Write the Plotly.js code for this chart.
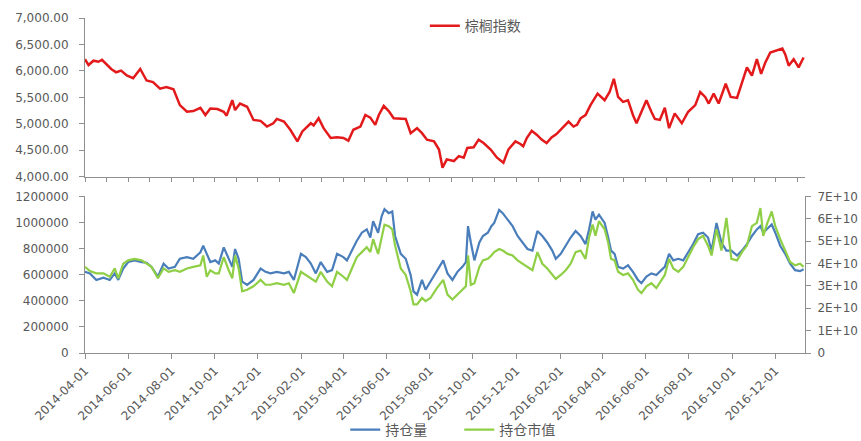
<!DOCTYPE html>
<html>
<head>
<meta charset="utf-8">
<script src="https://cdn.plot.ly/plotly-3.0.1.min.js"></script>
<style>html,body{margin:0;padding:0;background:#fff;}#chart{width:861px;height:441px;}</style>
</head>
<body>
<div id="chart"></div>
<script>
// ---- Top chart: palm oil index ----
const indexDates = ["2014-04-01","2014-04-06","2014-04-13","2014-04-20","2014-04-25","2014-05-01","2014-05-08","2014-05-15","2014-05-22","2014-05-30","2014-06-08","2014-06-18","2014-06-27","2014-07-06","2014-07-16","2014-07-25","2014-08-04","2014-08-13","2014-08-23","2014-09-01","2014-09-11","2014-09-18","2014-09-25","2014-10-05","2014-10-14","2014-10-18","2014-10-26","2014-10-30","2014-11-06","2014-11-16","2014-11-25","2014-12-05","2014-12-14","2014-12-23","2014-12-28","2015-01-07","2015-01-16","2015-01-26","2015-02-02","2015-02-14","2015-02-18","2015-02-25","2015-03-04","2015-03-14","2015-03-23","2015-04-01","2015-04-08","2015-04-15","2015-04-25","2015-05-02","2015-05-09","2015-05-16","2015-05-21","2015-05-28","2015-06-04","2015-06-11","2015-06-21","2015-06-28","2015-07-05","2015-07-14","2015-07-21","2015-07-28","2015-08-07","2015-08-14","2015-08-19","2015-08-25","2015-09-04","2015-09-11","2015-09-18","2015-09-23","2015-10-02","2015-10-09","2015-10-16","2015-10-26","2015-11-04","2015-11-13","2015-11-20","2015-11-30","2015-12-07","2015-12-11","2015-12-16","2015-12-23","2015-12-30","2016-01-06","2016-01-13","2016-01-20","2016-01-27","2016-02-06","2016-02-13","2016-02-20","2016-02-25","2016-03-01","2016-03-08","2016-03-15","2016-03-25","2016-04-04","2016-04-11","2016-04-17","2016-04-23","2016-04-30","2016-05-07","2016-05-14","2016-05-19","2016-05-26","2016-06-02","2016-06-09","2016-06-14","2016-06-21","2016-06-28","2016-07-04","2016-07-12","2016-07-22","2016-07-31","2016-08-10","2016-08-17","2016-08-24","2016-08-29","2016-09-05","2016-09-12","2016-09-22","2016-09-29","2016-10-08","2016-10-15","2016-10-22","2016-10-29","2016-11-05","2016-11-11","2016-11-17","2016-11-24","2016-12-01","2016-12-11","2016-12-15","2016-12-20","2016-12-27","2017-01-03","2017-01-10"];
const palmIndex = [6220,6110,6192,6173,6210,6129,6036,5974,6005,5912,5862,6036,5818,5787,5662,5694,5651,5352,5227,5240,5302,5165,5289,5278,5227,5153,5445,5259,5382,5321,5072,5054,4947,5009,5091,5041,4886,4667,4854,5009,4966,5103,4916,4730,4742,4730,4680,4886,4947,5165,5115,4979,5165,5339,5240,5103,5091,5091,4822,4916,4822,4699,4667,4512,4169,4326,4294,4388,4357,4543,4556,4699,4636,4512,4357,4263,4512,4667,4617,4574,4730,4867,4792,4699,4636,4742,4804,4947,5041,4947,4979,5103,5165,5352,5569,5445,5600,5849,5507,5414,5445,5165,5009,5227,5445,5227,5091,5072,5302,4916,5196,5009,5227,5352,5600,5507,5382,5569,5382,5756,5507,5489,5787,6067,5912,6222,5943,6160,6347,6378,6422,6316,6098,6222,6067,6254];

// ---- Bottom chart: open interest and its market value ----
const oiDates = ["2014-04-01","2014-04-08","2014-04-17","2014-04-27","2014-05-06","2014-05-13","2014-05-18","2014-05-25","2014-06-01","2014-06-10","2014-06-20","2014-06-27","2014-07-04","2014-07-13","2014-07-21","2014-07-28","2014-08-06","2014-08-13","2014-08-23","2014-09-01","2014-09-11","2014-09-15","2014-09-20","2014-09-25","2014-10-02","2014-10-07","2014-10-14","2014-10-21","2014-10-26","2014-10-30","2014-11-04","2014-11-09","2014-11-16","2014-11-25","2014-12-05","2014-12-12","2014-12-19","2014-12-28","2015-01-07","2015-01-14","2015-01-21","2015-01-31","2015-02-07","2015-02-14","2015-02-21","2015-02-28","2015-03-09","2015-03-16","2015-03-23","2015-04-01","2015-04-06","2015-04-13","2015-04-20","2015-04-27","2015-05-04","2015-05-09","2015-05-13","2015-05-20","2015-05-25","2015-05-29","2015-06-04","2015-06-09","2015-06-13","2015-06-21","2015-06-28","2015-07-05","2015-07-09","2015-07-14","2015-07-21","2015-07-26","2015-08-02","2015-08-11","2015-08-20","2015-08-26","2015-09-02","2015-09-09","2015-09-16","2015-09-21","2015-09-24","2015-09-28","2015-10-03","2015-10-10","2015-10-15","2015-10-22","2015-10-27","2015-10-31","2015-11-07","2015-11-12","2015-11-19","2015-11-26","2015-12-03","2015-12-10","2015-12-17","2015-12-24","2015-12-31","2016-01-07","2016-01-14","2016-01-21","2016-01-26","2016-02-02","2016-02-09","2016-02-16","2016-02-23","2016-03-01","2016-03-08","2016-03-13","2016-03-18","2016-03-22","2016-03-27","2016-04-04","2016-04-09","2016-04-13","2016-04-18","2016-04-23","2016-04-30","2016-05-07","2016-05-14","2016-05-21","2016-05-26","2016-06-02","2016-06-09","2016-06-16","2016-06-23","2016-06-28","2016-07-04","2016-07-10","2016-07-17","2016-07-24","2016-07-31","2016-08-07","2016-08-14","2016-08-21","2016-08-28","2016-09-02","2016-09-09","2016-09-16","2016-09-23","2016-09-30","2016-10-08","2016-10-15","2016-10-22","2016-10-29","2016-11-05","2016-11-10","2016-11-14","2016-11-19","2016-11-26","2016-12-01","2016-12-08","2016-12-15","2016-12-22","2016-12-29","2017-01-05","2017-01-10"];
const openInterest = [622000,610000,560000,577000,560000,610000,560000,647000,697000,710000,697000,692000,660000,585000,685000,647000,660000,722000,735000,722000,772000,822000,760000,697000,710000,685000,810000,722000,660000,797000,722000,547000,522000,560000,647000,622000,610000,622000,610000,622000,560000,760000,735000,685000,610000,697000,622000,635000,760000,735000,710000,785000,860000,922000,947000,885000,1010000,922000,1047000,1102000,1072000,1085000,897000,760000,722000,597000,472000,447000,560000,485000,547000,635000,710000,610000,560000,622000,660000,697000,972000,847000,710000,847000,897000,922000,972000,997000,1097000,1072000,1022000,972000,897000,847000,797000,785000,935000,897000,847000,785000,722000,760000,822000,885000,935000,897000,835000,947000,1085000,1022000,1060000,997000,885000,785000,760000,660000,647000,672000,622000,560000,535000,585000,610000,597000,635000,660000,760000,710000,722000,710000,772000,835000,910000,922000,885000,785000,997000,847000,785000,785000,747000,785000,835000,897000,947000,972000,922000,947000,985000,922000,822000,760000,685000,635000,627000,642000];
const oiMarketValue = [3.85e10,3.66e10,3.56e10,3.56e10,3.41e10,3.78e10,3.34e10,3.99e10,4.14e10,4.21e10,4.14e10,3.99e10,3.85e10,3.34e10,3.78e10,3.63e10,3.70e10,3.63e10,3.78e10,3.85e10,3.92e10,4.36e10,3.41e10,3.70e10,3.56e10,3.56e10,4.29e10,3.70e10,3.34e10,4.36e10,3.78e10,2.76e10,2.83e10,2.98e10,3.27e10,3.05e10,3.05e10,3.12e10,3.05e10,3.12e10,2.68e10,3.63e10,3.49e10,3.34e10,3.19e10,3.63e10,3.19e10,2.98e10,3.63e10,3.41e10,3.27e10,3.78e10,4.29e10,4.51e10,4.73e10,4.51e10,5.09e10,4.43e10,5.24e10,5.74e10,5.67e10,5.53e10,4.80e10,3.78e10,3.49e10,2.76e10,2.17e10,2.17e10,2.46e10,2.32e10,2.46e10,2.90e10,3.27e10,2.61e10,2.39e10,2.61e10,2.83e10,2.98e10,4.36e10,3.05e10,3.12e10,3.85e10,4.14e10,4.21e10,4.36e10,4.51e10,4.65e10,4.58e10,4.43e10,4.36e10,4.14e10,3.99e10,3.85e10,3.70e10,4.51e10,3.99e10,3.78e10,3.49e10,3.31e10,3.49e10,3.70e10,3.99e10,4.51e10,4.58e10,4.21e10,5.16e10,5.74e10,5.24e10,5.89e10,5.53e10,4.94e10,4.21e10,4.14e10,3.63e10,3.49e10,3.56e10,3.27e10,2.83e10,2.68e10,2.98e10,3.12e10,2.90e10,3.27e10,3.49e10,4.21e10,3.78e10,3.63e10,3.85e10,4.29e10,4.73e10,5.09e10,5.24e10,4.80e10,4.36e10,5.53e10,4.58e10,6.04e10,4.21e10,4.14e10,4.51e10,4.80e10,5.67e10,5.82e10,6.48e10,5.24e10,5.74e10,6.33e10,5.67e10,5.09e10,4.58e10,4.07e10,3.92e10,3.99e10,3.85e10];

const seriesNames = ["棕榈指数", "持仓量", "持仓市值"];
const xRange = ["2014-04-01", "2017-01-12"];

const tickFont = {family: "DejaVu Sans", size: 12, color: "#595959"};
const lineGray = "#8f8f8f";
const cjk = "Noto Sans CJK SC";

const traces = [
  {x: indexDates, y: palmIndex, name: seriesNames[0], type: "scatter", mode: "lines",
   line: {color: "#e31a1c", width: 2.5}, xaxis: "x", yaxis: "y", legend: "legend"},
  {x: oiDates, y: openInterest, name: seriesNames[1], type: "scatter", mode: "lines",
   line: {color: "#4a7ebb", width: 2.2}, xaxis: "x2", yaxis: "y2", legend: "legend2"},
  {x: oiDates, y: oiMarketValue, name: seriesNames[2], type: "scatter", mode: "lines",
   line: {color: "#8fcf45", width: 2.2}, xaxis: "x2", yaxis: "y3", legend: "legend2"}
];

const layout = {
  width: 861, height: 441,
  margin: {l: 85, r: 56, t: 10, b: 88},
  paper_bgcolor: "#ffffff", plot_bgcolor: "#ffffff",
  showlegend: true,
  legend: {x: 0.472, y: 0.973, xanchor: "left", yanchor: "middle", orientation: "h",
           font: {family: cjk, size: 14, color: "#595959"}, bgcolor: "rgba(0,0,0,0)"},
  legend2: {xref: "container", yref: "container", x: 0.401, y: 0.025, xanchor: "left", yanchor: "middle",
           orientation: "h", entrywidth: 69, entrywidthmode: "pixels",
           font: {family: cjk, size: 14, color: "#595959"}, bgcolor: "rgba(0,0,0,0)"},
  xaxis: {domain: [0, 1], anchor: "y", type: "date", range: xRange, tick0: "2014-04-01", dtick: "M1",
          showticklabels: false, ticks: "outside", ticklen: 4, tickcolor: lineGray, automargin: false,
          showline: true, linecolor: lineGray, linewidth: 1, showgrid: false, zeroline: false},
  yaxis: {domain: [0.525, 0.997], range: [4000, 7000], dtick: 500, tickformat: ",.2f", automargin: false,
          ticks: "outside", ticklen: 5, tickcolor: lineGray, tickfont: tickFont, ticklabelstandoff: 8,
          showline: true, linecolor: lineGray, linewidth: 1, showgrid: false, zeroline: false},
  xaxis2: {domain: [0, 1], anchor: "y2", type: "date", range: xRange, tick0: "2014-04-01", dtick: "M2",
           tickformat: "%Y-%m-%d", tickangle: -45, tickfont: tickFont, automargin: false,
           ticks: "outside", ticklen: 5, tickcolor: lineGray,
           showline: true, linecolor: lineGray, linewidth: 1, showgrid: false, zeroline: false},
  yaxis2: {domain: [0, 0.466], anchor: "x2", range: [0, 1200000], dtick: 200000, tickformat: "d", automargin: false,
           ticks: "outside", ticklen: 5, tickcolor: lineGray, tickfont: tickFont, ticklabelstandoff: 8,
           showline: true, linecolor: lineGray, linewidth: 1, showgrid: false, zeroline: false},
  yaxis3: {overlaying: "y2", anchor: "x2", side: "right", range: [0, 7e10], dtick: 1e10, automargin: false,
           exponentformat: "E", showexponent: "all",
           ticks: "outside", ticklen: 5, tickcolor: lineGray, tickfont: tickFont, ticklabelstandoff: 4,
           showline: true, linecolor: lineGray, linewidth: 1, showgrid: false, zeroline: false}
};

Plotly.newPlot("chart", traces, layout, {staticPlot: true, displayModeBar: false});
</script>
</body>
</html>
